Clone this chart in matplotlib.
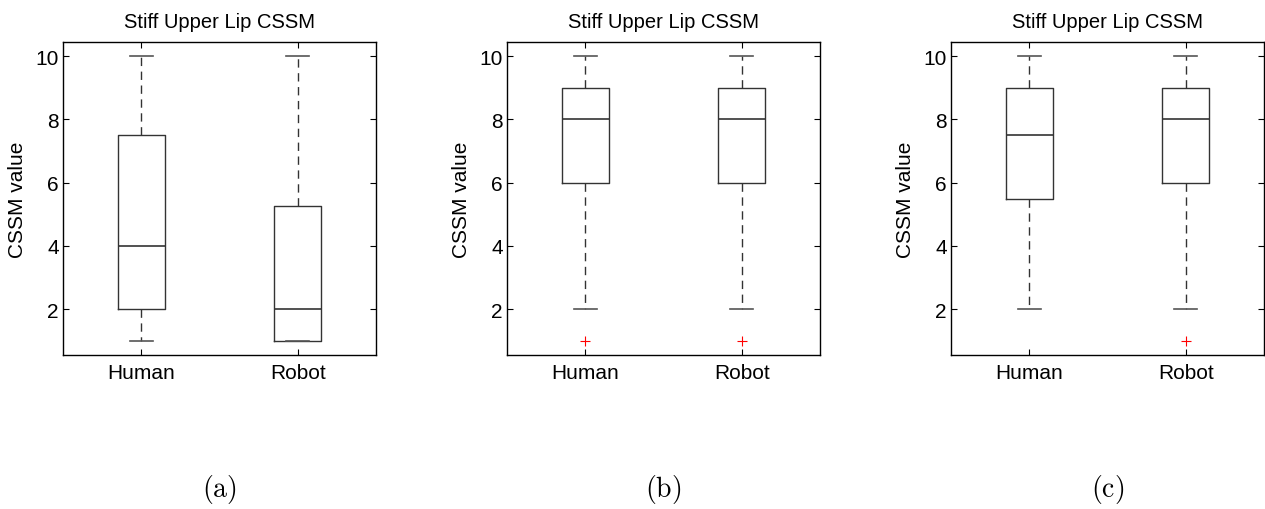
import numpy as np
import matplotlib.pyplot as plt
import matplotlib

matplotlib.rcParams.update({'font.family': 'Liberation Sans', 'font.size': 15})
plt.rcParams['mathtext.fontset'] = 'cm'
plt.rcParams['axes.linewidth'] = 1.0

# box statistics per panel: (Human, Robot)
groups = ['Human', 'Robot']
panel_tags = ['(a)', '(b)', '(c)']
title = 'Stiff Upper Lip CSSM'

whislo = [[1, 1], [2, 2], [2, 2]]
q1 = [[2, 1], [6, 6], [5.5, 6]]
med = [[4, 2], [8, 8], [7.5, 8]]
q3 = [[7.5, 5.25], [9, 9], [9, 9]]
whishi = [[10, 10], [10, 10], [10, 10]]
fliers = [[[], []], [[1], [1]], [[], [1]]]

fig = plt.figure(figsize=(12.65, 5.10), dpi=100)
W, H = 1265, 510
lefts = [63, 507, 951]
ax_w, ax_top, ax_bot = 313, 43, 356

for i in range(3):
    ax = fig.add_axes([lefts[i] / W, 1 - ax_bot / H, ax_w / W, (ax_bot - ax_top) / H])
    stats = []
    for j in range(2):
        stats.append(dict(whislo=whislo[i][j], q1=q1[i][j], med=med[i][j],
                          q3=q3[i][j], whishi=whishi[i][j], fliers=fliers[i][j]))
    ax.bxp(stats, positions=[1, 2], widths=0.3, showfliers=True,
           boxprops=dict(color='#333333', lw=1.0),
           whiskerprops=dict(color='#333333', lw=1.0, linestyle=(0, (6, 4))),
           capprops=dict(color='#555555', lw=1.2),
           medianprops=dict(color='#333333', lw=1.2),
           flierprops=dict(marker='+', markeredgecolor='red', markersize=6.5, markeredgewidth=0.8))
    ax.set_xlim(0.5, 2.5)
    ax.set_ylim(0.55, 10.45)
    ax.set_yticks([2, 4, 6, 8, 10])
    ax.set_xticks([1, 2])
    ax.set_xticklabels(groups)
    ax.tick_params(direction='in', length=4, width=0.8, top=True, right=True)
    ax.tick_params(axis='y', pad=3)
    ax.tick_params(axis='x', pad=6)
    ax.set_ylabel('CSSM value', labelpad=6)
    ax.set_title(title, fontsize=14.5, pad=11)
    fig.text((lefts[i] + ax_w / 2) / W, 1 - 490 / H, '$\\mathrm{' + panel_tags[i] + '}$',
             ha='center', va='center', fontsize=20)

fig.savefig('out.png', dpi=100)
